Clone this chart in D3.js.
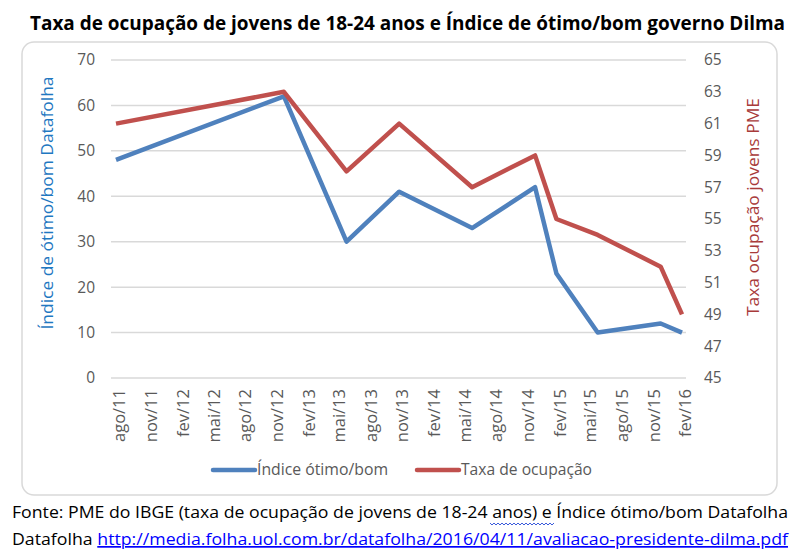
<!DOCTYPE html>
<html><head><meta charset="utf-8">
<script src="https://cdn.jsdelivr.net/npm/d3@7"></script>
<style>html,body{margin:0;padding:0;background:#fff;}svg{display:block;}</style>
</head><body>
<script>
const dates = ["2011-08-01","2012-12-01","2013-06-01","2013-11-01","2014-06-01","2014-12-01","2015-02-01","2015-06-01","2015-12-01","2016-02-01"];
const indiceOtimoBom = [48,62,30,41,33,42,23,10,12,10];
const taxaOcupacao = [61,63,58,61,57,59,55,54,52,49];
const xTickLabels = ["ago/11","nov/11","fev/12","mai/12","ago/12","nov/12","fev/13","mai/13","ago/13","nov/13","fev/14","mai/14","ago/14","nov/14","fev/15","mai/15","ago/15","nov/15","fev/16"];
const leftTicks = [0,10,20,30,40,50,60,70];
const rightTicks = [45,47,49,51,53,55,57,59,61,63,65];
const seriesNames = ["Índice ótimo/bom","Taxa de ocupação"];
const colors = ["#4f81bd","#c0504d"];

const W=799,H=559;
const svg=d3.select("body").append("svg").attr("width",W).attr("height",H);
const font="'Open Sans', 'Liberation Sans', sans-serif";
const parse=d3.timeParse("%Y-%m-%d");
const monthMap={jan:0,fev:1,mar:2,abr:3,mai:4,jun:5,jul:6,ago:7,set:8,out:9,nov:10,dez:11};
const tickDates=xTickLabels.map(s=>{const [m,y]=s.split("/");return new Date(2000+ +y,monthMap[m],1);});

const x=d3.scaleTime().domain([parse("2011-08-01"),parse("2016-02-01")]).range([116,682]);
const yL=d3.scaleLinear().domain([0,70]).range([378,60]);
const yR=d3.scaleLinear().domain([45,65]).range([378,60]);

// chart border
svg.append("rect").attr("x",22).attr("y",42).attr("width",755).attr("height",453).attr("rx",12)
  .attr("fill","#fff").attr("stroke","#d9d9d9").attr("stroke-width",1.5);

// title
svg.append("text").attr("x",30).attr("y",30).attr("textLength",755).attr("lengthAdjust","spacingAndGlyphs")
  .attr("font-family",font).attr("font-weight","bold").attr("font-size",19).attr("fill","#000")
  .text("Taxa de ocupação de jovens de 18-24 anos e Índice de ótimo/bom governo Dilma");

// gridlines
svg.append("g").selectAll("line").data(leftTicks).join("line")
  .attr("x1",111).attr("x2",686).attr("y1",d=>yL(d)).attr("y2",d=>yL(d))
  .attr("stroke","#d9d9d9").attr("stroke-width",1.5);

// left axis
const gL=svg.append("g").attr("transform","translate(111,0)")
  .call(d3.axisLeft(yL).tickValues(leftTicks).tickSize(0).tickPadding(16));
gL.select(".domain").remove();
gL.selectAll("text").attr("font-family",font).attr("font-size",15.5).attr("fill","#595959");

// right axis
const gR=svg.append("g").attr("transform","translate(686,0)")
  .call(d3.axisRight(yR).tickValues(rightTicks).tickSize(0).tickPadding(18));
gR.select(".domain").remove();
gR.selectAll("text").attr("font-family",font).attr("font-size",15.5).attr("fill","#595959");

// x axis
const gX=svg.append("g").attr("transform","translate(0,378)")
  .call(d3.axisBottom(x).tickValues(tickDates).tickSize(0).tickFormat((d,i)=>xTickLabels[i]));
gX.select(".domain").remove();
gX.selectAll("text").attr("font-family",font).attr("font-size",16.5).attr("fill","#595959")
  .attr("text-anchor","end").attr("transform","translate(3,11) rotate(-90)").attr("dy","0.35em").attr("y",0).attr("x",0);

// axis titles
svg.append("text").attr("transform","translate(53,203) rotate(-90)").attr("text-anchor","middle")
  .attr("textLength",253).attr("lengthAdjust","spacingAndGlyphs")
  .attr("font-family",font).attr("font-size",17).attr("fill","#1f78c1").text("Índice de ótimo/bom Datafolha");
svg.append("text").attr("transform","translate(759,207) rotate(-90)").attr("text-anchor","middle")
  .attr("textLength",218).attr("lengthAdjust","spacingAndGlyphs")
  .attr("font-family",font).attr("font-size",17).attr("fill","#a83a3a").text("Taxa ocupação jovens PME");

// lines
const pts=dates.map(parse);
const lineL=d3.line().x((d,i)=>x(pts[i])).y(d=>yL(d));
const lineR=d3.line().x((d,i)=>x(pts[i])).y(d=>yR(d));
svg.append("path").datum(indiceOtimoBom).attr("d",lineL).attr("fill","none").attr("stroke",colors[0])
  .attr("stroke-width",4.5).attr("stroke-linejoin","round");
svg.append("path").datum(taxaOcupacao).attr("d",lineR).attr("fill","none").attr("stroke",colors[1])
  .attr("stroke-width",4.5).attr("stroke-linejoin","round");

// legend
const legX=[213,417];
const legW=[131,131];
seriesNames.forEach((n,i)=>{
  svg.append("line").attr("x1",legX[i]).attr("x2",legX[i]+42).attr("y1",470).attr("y2",470)
    .attr("stroke",colors[i]).attr("stroke-width",4.5).attr("stroke-linecap","round");
  svg.append("text").attr("x",legX[i]+44).attr("y",475).attr("textLength",legW[i]).attr("lengthAdjust","spacingAndGlyphs")
    .attr("font-family",font).attr("font-size",15.5).attr("fill","#595959").text(n);
});

// footer
svg.append("text").attr("x",12).attr("y",518).attr("textLength",776).attr("lengthAdjust","spacingAndGlyphs")
  .attr("font-family",font).attr("font-size",17).attr("fill","#000")
  .text("Fonte: PME do IBGE (taxa de ocupação de jovens de 18-24 anos)  e Índice ótimo/bom Datafolha");
const f2=svg.append("text").attr("x",12).attr("y",545).attr("textLength",776).attr("lengthAdjust","spacingAndGlyphs")
  .attr("font-family",font).attr("font-size",17).attr("fill","#000");
f2.append("tspan").text("Datafolha ");
f2.append("tspan").attr("fill","#0000ff").attr("text-decoration","underline")
  .text("http://media.folha.uol.com.br/datafolha/2016/04/11/avaliacao-presidente-dilma.pdf");
// spell-check squiggle
let wp="M490,523";
for(let xx=490;xx<553;xx+=4){wp+=` L${xx+2},525 L${xx+4},523`;}
svg.append("path").attr("d",wp).attr("fill","none").attr("stroke","#3b5bdb").attr("stroke-width",1);
</script>
</body></html>
